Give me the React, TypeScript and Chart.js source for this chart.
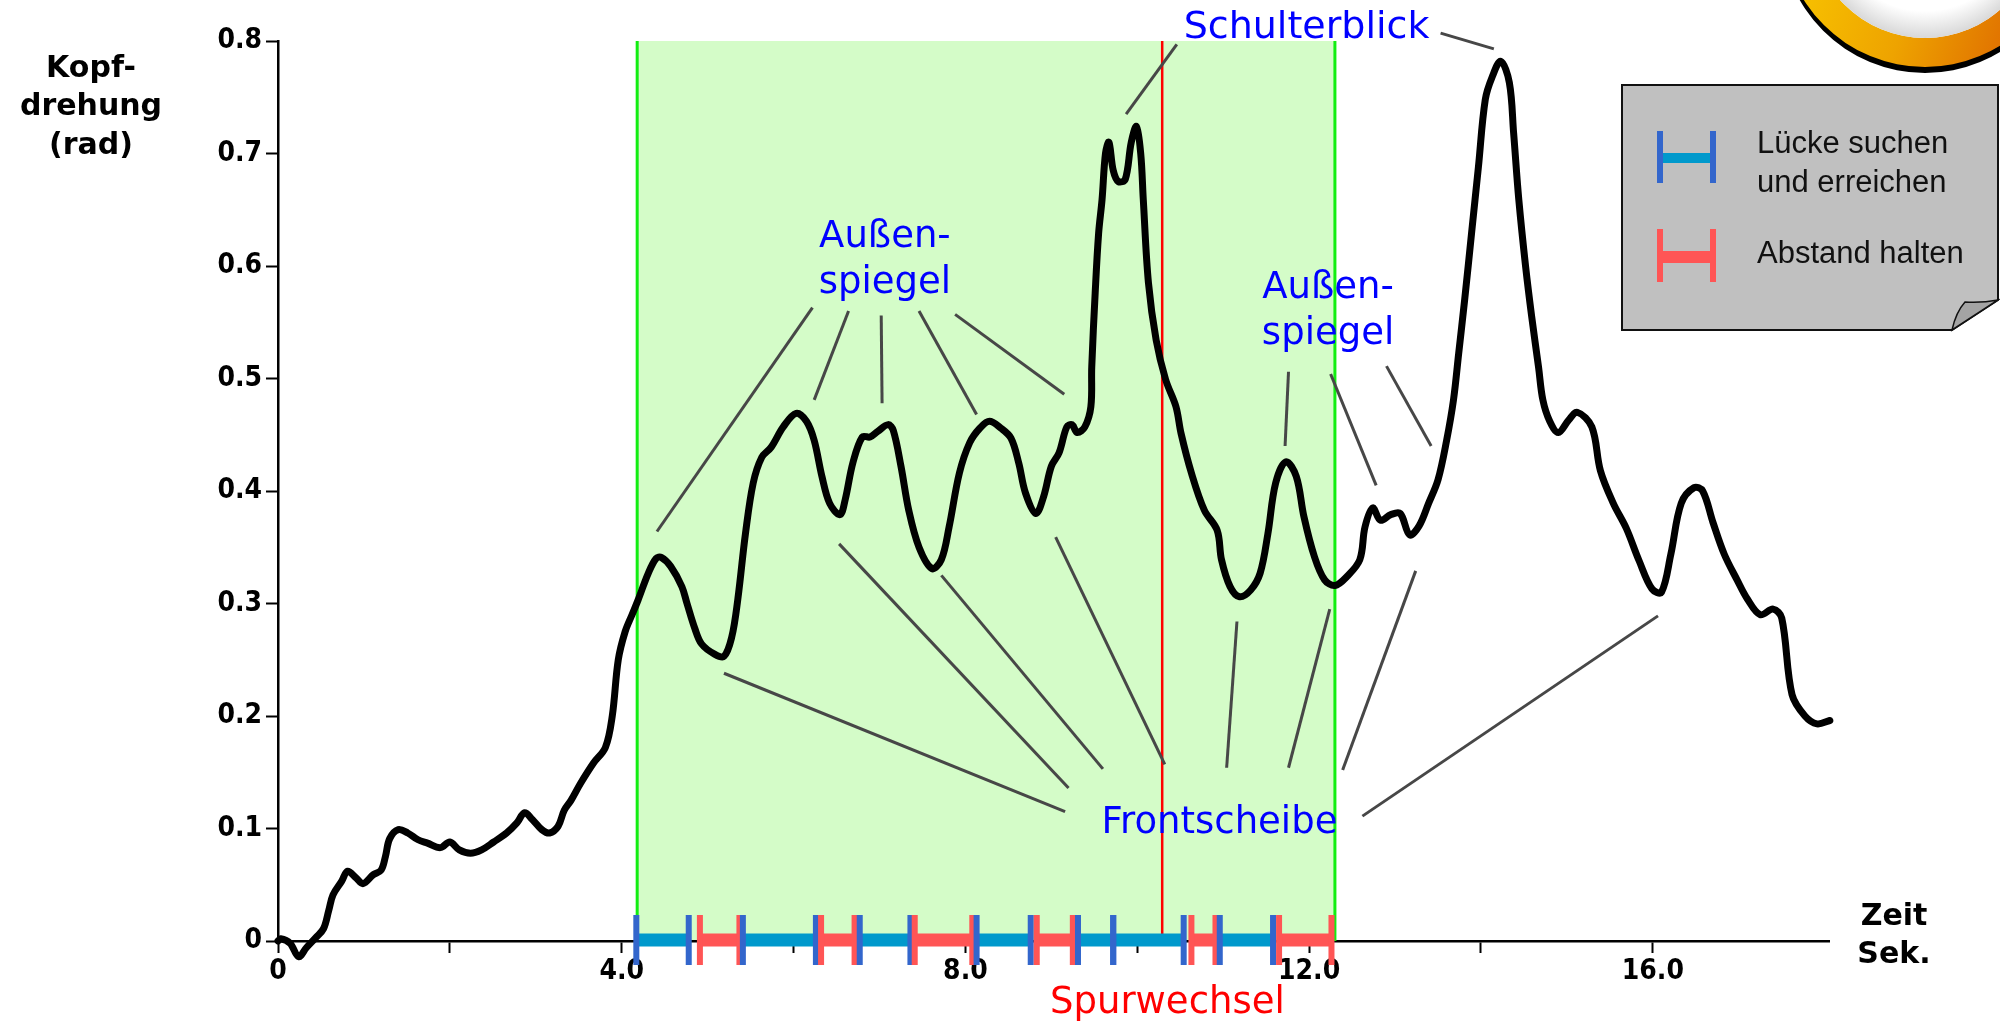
import React, { useEffect, useRef } from 'react';
import { Chart, registerables } from 'chart.js';

Chart.register(...registerables);

// ---- Head rotation curve (time in s, rotation in rad) ----
const timeS = [
  0.0, 0.03, 0.14, 0.24, 0.33, 0.44, 0.53, 0.59, 0.64, 0.74, 0.81, 0.91, 0.99, 1.11, 1.2, 1.25, 1.3, 1.4, 1.51, 1.63,
  1.74, 1.89, 2.0, 2.11, 2.24, 2.37, 2.51, 2.66, 2.78, 2.87, 2.96, 3.07, 3.16, 3.26, 3.33, 3.41, 3.52, 3.67, 3.81, 3.89,
  3.96, 4.04, 4.12, 4.19, 4.31, 4.4, 4.46, 4.57, 4.7, 4.76, 4.85, 4.93, 5.08, 5.19, 5.28, 5.35, 5.44, 5.53, 5.63, 5.74,
  5.88, 6.03, 6.15, 6.24, 6.33, 6.42, 6.54, 6.6, 6.69, 6.8, 6.89, 6.98, 7.1, 7.16, 7.25, 7.34, 7.46, 7.61, 7.72, 7.81,
  7.93, 8.05, 8.17, 8.28, 8.41, 8.53, 8.62, 8.7, 8.82, 8.91, 9.0, 9.09, 9.18, 9.24, 9.3, 9.39, 9.46, 9.47, 9.51, 9.55,
  9.59, 9.63, 9.67, 9.72, 9.78, 9.86, 9.93, 9.99, 10.04, 10.07, 10.13, 10.22, 10.33, 10.45, 10.51, 10.63, 10.78, 10.93, 10.98, 11.08,
  11.19, 11.32, 11.43, 11.52, 11.61, 11.73, 11.85, 11.94, 12.06, 12.18, 12.3, 12.44, 12.59, 12.65, 12.74, 12.83, 12.95, 13.06, 13.17, 13.28,
  13.39, 13.5, 13.6, 13.68, 13.74, 13.81, 13.89, 13.97, 14.05, 14.13, 14.23, 14.33, 14.38, 14.44, 14.52, 14.59, 14.67, 14.72, 14.8, 14.9,
  15.02, 15.12, 15.29, 15.39, 15.54, 15.69, 15.84, 15.99, 16.1, 16.21, 16.33, 16.48, 16.58, 16.7, 16.83, 16.98, 17.1, 17.25, 17.4, 17.5,
  17.62, 17.77, 17.91, 18.06,
];
const headRot = [
  0.0, 0.002, -0.002, -0.014, -0.006, 0.003, 0.011, 0.027, 0.041, 0.053, 0.062, 0.056, 0.051, 0.059, 0.063, 0.075, 0.091, 0.099, 0.096, 0.09,
  0.087, 0.083, 0.088, 0.081, 0.078, 0.081, 0.088, 0.096, 0.105, 0.114, 0.108, 0.099, 0.096, 0.102, 0.116, 0.125, 0.14, 0.158, 0.172, 0.2,
  0.25, 0.275, 0.29, 0.303, 0.327, 0.34, 0.341, 0.333, 0.315, 0.3, 0.278, 0.264, 0.255, 0.253, 0.27, 0.303, 0.362, 0.407, 0.43, 0.439,
  0.457, 0.469, 0.462, 0.445, 0.413, 0.389, 0.379, 0.392, 0.425, 0.448, 0.448, 0.453, 0.459, 0.454, 0.422, 0.383, 0.35, 0.331, 0.339, 0.368,
  0.416, 0.443, 0.456, 0.462, 0.456, 0.447, 0.425, 0.398, 0.38, 0.395, 0.422, 0.434, 0.457, 0.459, 0.452, 0.457, 0.475, 0.51, 0.576, 0.629,
  0.659, 0.7, 0.71, 0.685, 0.675, 0.677, 0.71, 0.724, 0.7, 0.659, 0.585, 0.534, 0.499, 0.475, 0.451, 0.416, 0.383, 0.365, 0.339, 0.315,
  0.306, 0.312, 0.327, 0.362, 0.407, 0.426, 0.413, 0.377, 0.342, 0.321, 0.316, 0.324, 0.339, 0.368, 0.385, 0.374, 0.379, 0.38, 0.361, 0.369,
  0.389, 0.41, 0.445, 0.481, 0.522, 0.57, 0.629, 0.688, 0.748, 0.768, 0.782, 0.763, 0.718, 0.659, 0.599, 0.555, 0.51, 0.481, 0.462, 0.452,
  0.463, 0.47, 0.457, 0.418, 0.389, 0.367, 0.338, 0.313, 0.31, 0.344, 0.389, 0.403, 0.4, 0.372, 0.344, 0.321, 0.304, 0.29, 0.295, 0.287,
  0.219, 0.2, 0.193, 0.196,
];

// ---- Axes ----
const xMin = 0;
const xMax = 18.05;
const xStep = 2;
const xLastTick = 16;
const xTickLabels = ['0', '', '4.0', '', '8.0', '', '12.0', '', '16.0'];
const yMin = 0;
const yMax = 0.8;
const yStep = 0.1;
const yTickLabels = ['0', '0.1', '0.2', '0.3', '0.4', '0.5', '0.6', '0.7', '0.8'];
const yTitleLines = ['Kopf-', 'drehung', '(rad)'];
const xTitleLines = ['Zeit', 'Sek.'];

// ---- Lane change window ----
const laneChangeWindow = [4.18, 12.3];
const laneChangeMoment = 10.29;

// ---- Task phases along the time axis ----
const phaseStart = [4.17, 4.91, 5.41, 6.32, 6.77, 7.41, 8.13, 8.83, 9.31, 9.72, 10.63, 10.96, 11.65];
const phaseEnd = [4.78, 5.37, 6.26, 6.71, 7.36, 8.08, 8.76, 9.25, 9.72, 10.54, 10.91, 11.58, 12.26];
const phaseKind = ['gap', 'keep', 'gap', 'keep', 'gap', 'keep', 'gap', 'keep', 'gap', 'gap', 'keep', 'gap', 'keep'];
const legendLabels = [['Lücke suchen', 'und erreichen'], ['Abstand halten']];

// ---- Callouts (text, anchor time, anchor value of first baseline) ----
const calloutText = [['Außen-', 'spiegel'], ['Außen-', 'spiegel'], ['Schulterblick'], ['Frontscheibe'], ['Spurwechsel']];
const calloutT = [7.063, 12.22, 11.97, 10.956, 10.35];
const calloutV = [0.617, 0.572, 0.803, 0.096, -0.064];
const calloutKind = ['blue', 'blue', 'blue', 'blue', 'red'];

// leader lines: [t1, v1, t2, v2]
const leaderLines = [
  [6.22, 0.563, 4.41, 0.364],
  [6.64, 0.56, 6.24, 0.481],
  [7.02, 0.556, 7.03, 0.478],
  [7.46, 0.56, 8.13, 0.468],
  [7.88, 0.557, 9.15, 0.486],
  [11.76, 0.506, 11.72, 0.44],
  [12.25, 0.504, 12.78, 0.405],
  [12.9, 0.511, 13.42, 0.44],
  [10.46, 0.797, 9.87, 0.735],
  [13.53, 0.807, 14.15, 0.793],
  [5.19, 0.238, 9.16, 0.115],
  [6.53, 0.353, 9.2, 0.136],
  [7.72, 0.325, 9.6, 0.153],
  [9.05, 0.359, 10.32, 0.157],
  [11.16, 0.284, 11.04, 0.154],
  [12.24, 0.295, 11.76, 0.154],
  [13.24, 0.329, 12.39, 0.152],
  [16.06, 0.289, 12.62, 0.111],
];

const TICK_FONT = '"DejaVu Sans Condensed", "DejaVu Sans", sans-serif';
const LABEL_FONT = '"DejaVu Sans", sans-serif';

const overlayPlugin = {
  id: 'overlay',
  beforeDatasetsDraw(chart: any) {
    const { ctx, scales } = chart;
    const x = scales.x;
    const y = scales.y;
    const x0 = x.getPixelForValue(laneChangeWindow[0]);
    const x1 = x.getPixelForValue(laneChangeWindow[1]);
    const yTop = y.getPixelForValue(yMax);
    const yBot = y.getPixelForValue(0);
    ctx.save();
    ctx.fillStyle = '#d4fcc8';
    ctx.fillRect(x0, yTop, x1 - x0, yBot - yTop - 1);
    ctx.strokeStyle = '#11ee11';
    ctx.lineWidth = 3;
    ctx.beginPath();
    ctx.moveTo(x0, yTop);
    ctx.lineTo(x0, yBot);
    ctx.moveTo(x1, yTop);
    ctx.lineTo(x1, yBot);
    ctx.stroke();
    const xr = x.getPixelForValue(laneChangeMoment);
    ctx.strokeStyle = '#ff0000';
    ctx.lineWidth = 2.5;
    ctx.beginPath();
    ctx.moveTo(xr, yTop);
    ctx.lineTo(xr, yBot);
    ctx.stroke();
    // leader lines
    ctx.strokeStyle = '#474747';
    ctx.lineWidth = 3;
    ctx.lineCap = 'butt';
    leaderLines.forEach((l) => {
      ctx.beginPath();
      ctx.moveTo(x.getPixelForValue(l[0]), y.getPixelForValue(l[1]));
      ctx.lineTo(x.getPixelForValue(l[2]), y.getPixelForValue(l[3]));
      ctx.stroke();
    });
    ctx.restore();
  },
  afterDatasetsDraw(chart: any) {
    const { ctx, scales } = chart;
    const x = scales.x;
    const y = scales.y;
    const yc = y.getPixelForValue(0) - 1;
    ctx.save();
    // phase bars
    phaseStart.forEach((s, i) => {
      const a = x.getPixelForValue(s);
      const b = x.getPixelForValue(phaseEnd[i]);
      const gap = phaseKind[i] === 'gap';
      ctx.fillStyle = gap ? '#0099cc' : '#ff5555';
      ctx.fillRect(a, yc - 6.5, b - a, 13);
    });
    phaseStart.forEach((s, i) => {
      const a = x.getPixelForValue(s);
      const b = x.getPixelForValue(phaseEnd[i]);
      const gap = phaseKind[i] === 'gap';
      ctx.fillStyle = gap ? '#3366cc' : '#ff5555';
      ctx.fillRect(a - 3, yc - 25, 6, 50);
      ctx.fillRect(b - 3, yc - 25, 6, 50);
    });
    // callouts
    ctx.textAlign = 'center';
    ctx.textBaseline = 'alphabetic';
    calloutText.forEach((lines, i) => {
      const px = x.getPixelForValue(calloutT[i]);
      const py = y.getPixelForValue(calloutV[i]);
      const size = lines[0] === 'Schulterblick' ? 38 : 37;
      ctx.font = `${size}px ${LABEL_FONT}`;
      ctx.fillStyle = calloutKind[i] === 'red' ? '#ff0000' : '#0000ff';
      lines.forEach((ln, j) => ctx.fillText(ln, px, py + j * 46.5));
    });
    ctx.restore();
  },
  afterDraw(chart: any) {
    const { ctx } = chart;
    ctx.save();
    // axis titles
    ctx.fillStyle = '#000';
    ctx.textAlign = 'center';
    ctx.textBaseline = 'alphabetic';
    ctx.font = `bold 30px ${LABEL_FONT}`;
    const yBase = [77, 115, 154];
    yTitleLines.forEach((t, i) => ctx.fillText(t, 91, yBase[i]));
    const xBase = [925, 963];
    xTitleLines.forEach((t, i) => ctx.fillText(t, 1894, xBase[i]));

    // decorative ring (top right)
    const cx = 1925;
    const cy = -76;
    ctx.beginPath();
    ctx.arc(cx, cy + 5, 144, 0, Math.PI * 2);
    ctx.arc(cx, cy + 5, 116, 0, Math.PI * 2, true);
    ctx.fillStyle = '#000';
    ctx.fill();
    const g = ctx.createLinearGradient(1800, 0, 2000, 70);
    g.addColorStop(0, '#f7c000');
    g.addColorStop(0.5, '#eea300');
    g.addColorStop(1, '#e07000');
    ctx.beginPath();
    ctx.arc(cx, cy, 143, 0, Math.PI * 2);
    ctx.arc(cx, cy, 114, 0, Math.PI * 2, true);
    ctx.fillStyle = g;
    ctx.fill();
    const rg = ctx.createRadialGradient(cx, cy - 8, 95, cx, cy, 114);
    rg.addColorStop(0, '#ffffff');
    rg.addColorStop(1, '#d8d8d8');
    ctx.beginPath();
    ctx.arc(cx, cy, 114, 0, Math.PI * 2);
    ctx.fillStyle = rg;
    ctx.fill();

    // legend note
    ctx.beginPath();
    ctx.moveTo(1622, 85);
    ctx.lineTo(1998, 85);
    ctx.lineTo(1998, 300);
    ctx.lineTo(1952, 330);
    ctx.lineTo(1622, 330);
    ctx.closePath();
    ctx.fillStyle = '#c0c0c0';
    ctx.fill();
    ctx.strokeStyle = '#111';
    ctx.lineWidth = 2;
    ctx.stroke();
    ctx.beginPath();
    ctx.moveTo(1952, 330);
    ctx.quadraticCurveTo(1956, 312, 1965, 302);
    ctx.quadraticCurveTo(1982, 303, 1998, 300);
    ctx.closePath();
    ctx.fillStyle = '#a4a4a4';
    ctx.fill();
    ctx.lineWidth = 1.5;
    ctx.stroke();

    const symbols = [
      { top: 131, h: 52, bar: 153, bh: 10, cap: '#3366cc', fill: '#0099cc' },
      { top: 229, h: 53, bar: 251, bh: 12, cap: '#ff5555', fill: '#ff5555' },
    ];
    symbols.forEach((s) => {
      ctx.fillStyle = s.fill;
      ctx.fillRect(1659, s.bar, 57, s.bh);
      ctx.fillStyle = s.cap;
      ctx.fillRect(1657, s.top, 6, s.h);
      ctx.fillRect(1710, s.top, 6, s.h);
    });
    ctx.fillStyle = '#111';
    ctx.textAlign = 'left';
    ctx.font = '31px "Liberation Sans", Arial, sans-serif';
    const legBase = [[153, 192], [263]];
    legendLabels.forEach((lines, i) => lines.forEach((t, j) => ctx.fillText(t, 1757, legBase[i][j])));
    ctx.restore();
  },
};

export default function App() {
  const canvasRef = useRef<HTMLCanvasElement | null>(null);

  useEffect(() => {
    const canvas = canvasRef.current;
    if (!canvas) return;
    const points = timeS.map((t, i) => ({ x: t, y: headRot[i] }));
    const chart = new Chart(canvas, {
      type: 'line',
      data: {
        datasets: [
          {
            label: 'Kopfdrehung',
            data: points,
            borderColor: '#000000',
            borderWidth: 7,
            pointRadius: 0,
            tension: 0.35,
            borderJoinStyle: 'round',
            borderCapStyle: 'round',
            fill: false,
            clip: false as any,
          },
        ],
      },
      options: {
        animation: false,
        responsive: false,
        devicePixelRatio: 1,
        layout: { padding: { left: 0, right: 171, top: 41, bottom: 0 } },
        plugins: { legend: { display: false }, tooltip: { enabled: false }, title: { display: false } },
        scales: {
          x: {
            type: 'linear',
            min: xMin,
            max: xMax,
            afterFit: (s: any) => {
              s.height = 82;
            },
            afterBuildTicks: (s: any) => {
              s.ticks = s.ticks.filter((t: any) => t.value <= xLastTick);
            },
            border: { display: true, color: '#000', width: 2.5 },
            grid: { drawOnChartArea: false, drawTicks: true, tickLength: 12, tickColor: '#000', tickWidth: 2 },
            ticks: {
              stepSize: xStep,
              includeBounds: false,
              autoSkip: false,
              maxRotation: 0,
              padding: 2,
              color: '#000',
              font: { family: TICK_FONT, weight: 'bold', size: 28 },
              callback: (_v: any, i: number) => xTickLabels[i] ?? '',
            },
          },
          y: {
            type: 'linear',
            min: yMin,
            max: yMax,
            afterFit: (s: any) => {
              s.width = 278;
            },
            border: { display: true, color: '#000', width: 2.5 },
            grid: { drawOnChartArea: false, drawTicks: true, tickLength: 12, tickColor: '#000', tickWidth: 2 },
            ticks: {
              stepSize: yStep,
              autoSkip: false,
              padding: 4,
              color: '#000',
              font: { family: TICK_FONT, weight: 'bold', size: 28 },
              callback: (_v: any, i: number) => yTickLabels[i] ?? '',
            },
          },
        },
      },
      plugins: [overlayPlugin],
    } as any);
    return () => chart.destroy();
  }, []);

  return (
    <div style={{ position: 'absolute', left: 0, top: 0, width: 2000, height: 1023, background: '#fff' }}>
      <canvas ref={canvasRef} width={2000} height={1023} style={{ width: 2000, height: 1023, display: 'block' }} />
    </div>
  );
}
